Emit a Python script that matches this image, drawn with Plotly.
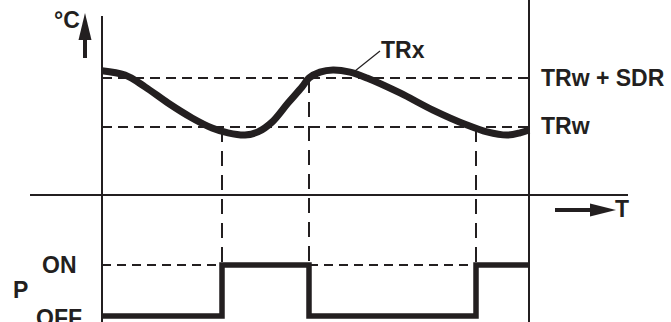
import plotly.graph_objects as go

# thermostat diagram: room temperature TRx against setpoint TRw / TRw + SDR, and relay state P
time = [0, 23, 43, 66, 90, 110, 126, 143, 156, 170, 186, 200, 207, 218, 231, 248,
        265, 298, 331, 365, 385, 405, 418, 427]
temp = [22.30, 22.12, 21.64, 20.98, 20.37, 19.96, 19.76, 19.67, 19.80, 20.20, 20.98,
        21.63, 22.00, 22.24, 22.33, 22.24, 22.00, 21.39, 20.69, 20.08, 19.80, 19.67,
        19.76, 19.88]

TRW = 20.0
SDR = 2.0
T_END = 427

switch_time = [0, 120, 207, 374, 427]
power = [0, 1, 0, 1, 1]          # 0 = OFF, 1 = ON

W, H = 671, 322
INK = "#231f20"
FONT = dict(family="Liberation Sans, Arial", size=23, color=INK, weight="bold")

# pixel anchors of the drawing
T0_PX, T1_PX = 102, 529
TRW_PX, SDR_PX = 127, 78
OFF_PX, ON_PX = 316, 265
AXIS_PX = 195

px_per_t = (T1_PX - T0_PX) / T_END
px_per_deg = (TRW_PX - SDR_PX) / SDR
px_per_p = OFF_PX - ON_PX

xr = [-T0_PX / px_per_t, (W - T0_PX) / px_per_t]
yr = [TRW - (H - TRW_PX) / px_per_deg, TRW + TRW_PX / px_per_deg]
y2r = [-(H - OFF_PX) / px_per_p, OFF_PX / px_per_p]


def pp(x, y):
    return x / W, 1 - y / H


def temp_paper(v):
    return (v - yr[0]) / (yr[1] - yr[0])


def pow_paper(v):
    return (v - y2r[0]) / (y2r[1] - y2r[0])


fig = go.Figure()
fig.add_trace(go.Scatter(x=time, y=temp, mode="lines",
                         line=dict(color=INK, width=7, shape="spline", smoothing=1)))
fig.add_trace(go.Scatter(x=switch_time, y=power, mode="lines", yaxis="y2",
                         line=dict(color=INK, width=5.5, shape="hv")))

shapes = []
# axes
shapes.append(dict(type="line", xref="x", yref="paper", x0=0, x1=0,
                   y0=0, y1=pp(0, 16)[1], line=dict(color=INK, width=2)))
shapes.append(dict(type="line", xref="x", yref="paper", x0=T_END, x1=T_END,
                   y0=0, y1=1, line=dict(color=INK, width=2)))
shapes.append(dict(type="line", xref="paper", yref="paper",
                   x0=pp(30, 0)[0], x1=pp(628, 0)[0],
                   y0=pp(0, AXIS_PX)[1], y1=pp(0, AXIS_PX)[1], line=dict(color=INK, width=2)))
# setpoint levels
for lvl in [TRW, TRW + SDR]:
    shapes.append(dict(type="line", xref="x", yref="y", x0=0, x1=T_END, y0=lvl, y1=lvl,
                       line=dict(color=INK, width=2, dash="10px,6px")))
# ON level where relay is off
for a, b in [(switch_time[0], switch_time[1]), (switch_time[2], switch_time[3])]:
    shapes.append(dict(type="line", xref="x", yref="y2", x0=a, x1=b, y0=1, y1=1,
                       line=dict(color=INK, width=1.8, dash="9px,6px")))
# switching instants
for t, lvl in [(switch_time[1], TRW), (switch_time[2], TRW + SDR), (switch_time[3], TRW)]:
    shapes.append(dict(type="line", xref="x", yref="paper", x0=t, x1=t,
                       y0=temp_paper(lvl), y1=pow_paper(1),
                       line=dict(color=INK, width=2, dash="15px,9px")))

# arrows
def tri(pts):
    p = [pp(x, y) for x, y in pts]
    return "M{},{} L{},{} L{},{} Z".format(p[0][0], p[0][1], p[1][0], p[1][1], p[2][0], p[2][1])


shapes.append(dict(type="line", xref="paper", yref="paper",
                   x0=pp(85, 0)[0], x1=pp(85, 0)[0], y0=pp(0, 58)[1], y1=pp(0, 36)[1],
                   line=dict(color=INK, width=4)))
shapes.append(dict(type="path", xref="paper", yref="paper", path=tri([(78.5, 40), (91.5, 40), (85, 13)]),
                   fillcolor=INK, line=dict(width=0)))
shapes.append(dict(type="line", xref="paper", yref="paper",
                   x0=pp(555, 0)[0], x1=pp(594, 0)[0], y0=pp(0, 210)[1], y1=pp(0, 210)[1],
                   line=dict(color=INK, width=4)))
shapes.append(dict(type="path", xref="paper", yref="paper", path=tri([(590, 203.5), (590, 216.5), (616, 210)]),
                   fillcolor=INK, line=dict(width=0)))
# leader for TRx
shapes.append(dict(type="line", xref="paper", yref="paper",
                   x0=pp(355, 0)[0], x1=pp(380, 0)[0], y0=pp(0, 71)[1], y1=pp(0, 51)[1],
                   line=dict(color=INK, width=1.3)))

labels = [
    ("°C", 67, 20, "center"),
    ("TRx", 379, 50, "left"),
    ("TRw + SDR", 539, 78, "left"),
    ("TRw", 539, 126, "left"),
    ("T", 622, 209, "center"),
    ("ON", 59, 265, "center"),
    ("P", 20, 290, "center"),
    ("OFF", 59, 318, "center"),
]
annotations = []
for text, x, y, anchor in labels:
    px_, py_ = pp(x, y)
    annotations.append(dict(text=text, x=px_, y=py_, xref="paper", yref="paper",
                            xanchor=anchor, yanchor="middle", showarrow=False, font=FONT))

fig.update_layout(
    width=W, height=H, margin=dict(l=0, r=0, t=0, b=0),
    paper_bgcolor="white", plot_bgcolor="white", showlegend=False,
    xaxis=dict(range=xr, visible=False),
    yaxis=dict(range=yr, visible=False),
    yaxis2=dict(range=y2r, visible=False, overlaying="y"),
    shapes=shapes, annotations=annotations,
)

fig.write_html("out.html", config={"displayModeBar": False},
               post_script="document.body.style.margin='0';")
